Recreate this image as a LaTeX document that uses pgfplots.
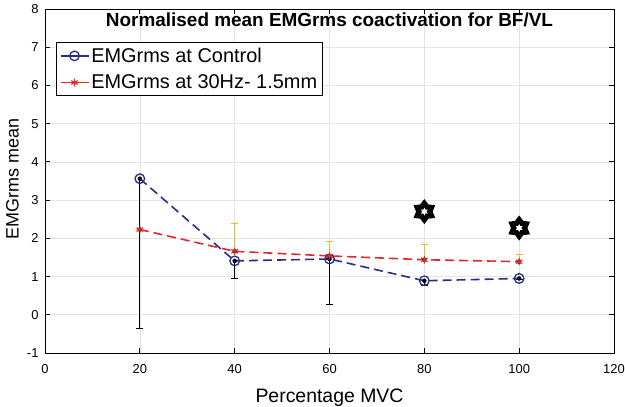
\documentclass[border=0pt]{standalone}
\usepackage{fontspec}
\setmainfont{Liberation Sans}
\usepackage{pgfplots}
\pgfplotsset{compat=1.18}
\usetikzlibrary{plotmarks}
\definecolor{ctrlblue}{RGB}{40,45,140}
\definecolor{hzred}{RGB}{228,38,45}
\definecolor{errorange}{RGB}{250,180,45}
\definecolor{gridgray}{RGB}{228,228,228}
\pgfdeclareplotmark{hexstar}{%
  \pgfsetcornersarced{\pgfpoint{0.22\pgfplotmarksize}{0.22\pgfplotmarksize}}%
  \pgfpathmoveto{\pgfpointpolar{90}{1.0\pgfplotmarksize}}%
  \pgfpathlineto{\pgfpointpolar{120}{0.66\pgfplotmarksize}}%
  \pgfpathlineto{\pgfpointpolar{150}{1.0\pgfplotmarksize}}%
  \pgfpathlineto{\pgfpointpolar{180}{0.66\pgfplotmarksize}}%
  \pgfpathlineto{\pgfpointpolar{210}{1.0\pgfplotmarksize}}%
  \pgfpathlineto{\pgfpointpolar{240}{0.66\pgfplotmarksize}}%
  \pgfpathlineto{\pgfpointpolar{270}{1.0\pgfplotmarksize}}%
  \pgfpathlineto{\pgfpointpolar{300}{0.66\pgfplotmarksize}}%
  \pgfpathlineto{\pgfpointpolar{330}{1.0\pgfplotmarksize}}%
  \pgfpathlineto{\pgfpointpolar{0}{0.66\pgfplotmarksize}}%
  \pgfpathlineto{\pgfpointpolar{30}{1.0\pgfplotmarksize}}%
  \pgfpathlineto{\pgfpointpolar{60}{0.66\pgfplotmarksize}}%
  \pgfpathclose
  \pgfsetfillcolor{black}%
  \pgfusepathqfill
  \pgfsetcornersarced{\pgfpointorigin}%
  \pgfpathmoveto{\pgfpointpolar{90}{0.32\pgfplotmarksize}}%
  \pgfpathlineto{\pgfpointpolar{120}{0.17\pgfplotmarksize}}%
  \pgfpathlineto{\pgfpointpolar{150}{0.32\pgfplotmarksize}}%
  \pgfpathlineto{\pgfpointpolar{180}{0.17\pgfplotmarksize}}%
  \pgfpathlineto{\pgfpointpolar{210}{0.32\pgfplotmarksize}}%
  \pgfpathlineto{\pgfpointpolar{240}{0.17\pgfplotmarksize}}%
  \pgfpathlineto{\pgfpointpolar{270}{0.32\pgfplotmarksize}}%
  \pgfpathlineto{\pgfpointpolar{300}{0.17\pgfplotmarksize}}%
  \pgfpathlineto{\pgfpointpolar{330}{0.32\pgfplotmarksize}}%
  \pgfpathlineto{\pgfpointpolar{0}{0.17\pgfplotmarksize}}%
  \pgfpathlineto{\pgfpointpolar{30}{0.32\pgfplotmarksize}}%
  \pgfpathlineto{\pgfpointpolar{60}{0.17\pgfplotmarksize}}%
  \pgfpathclose
  \pgfsetfillcolor{white}%
  \pgfusepathqfill
}
\begin{document}
\begin{tikzpicture}
\begin{axis}[
  scale only axis,
  width=569bp, height=344bp,
  xmin=0, xmax=120, ymin=-1, ymax=8,
  xtick={0,20,...,120}, ytick={-1,0,...,8},
  /pgf/number format/assume math mode=true,
  tick label style={font=\fontsize{13}{15}\selectfont},
  xticklabel style={yshift=-8bp},
  yticklabel style={xshift=-3bp},
  axis line style={black, line width=1bp},
  tick style={black, line width=0.8bp},
  major tick length=5bp,
  tick align=inside,
  grid=major,
  major grid style={gridgray, line width=0.6bp},
  title={Normalised mean EMGrms coactivation for BF/VL},
  title style={font=\fontsize{19}{22}\selectfont\bfseries, at={(axis description cs:0.5,1)}, anchor=base, yshift=-23bp},
  xlabel={Percentage MVC},
  xlabel style={font=\fontsize{19.5}{22}\selectfont, at={(axis description cs:0.5,-0.143)}, anchor=base},
  ylabel={EMGrms mean},
  ylabel style={font=\fontsize{18}{21}\selectfont, at={(axis description cs:-0.057,0.505)}, anchor=center},
  legend style={at={(axis description cs:0.019,0.904)}, anchor=north west, draw=black, line width=0.8bp,
    font=\fontsize{20}{23}\selectfont, inner sep=3.5bp, row sep=7bp, fill=white},
  legend cell align=left,
  legend image code/.code={\draw[mark repeat=2,mark phase=2,#1,solid] plot coordinates {(0bp,0bp) (14bp,0bp) (28bp,0bp)};},
]
% error bars: control (lower only)
\addplot[forget plot, only marks, mark=none,
  error bars/.cd, y dir=minus, y explicit,
  error bar style={black, line width=0.9bp, solid},
  error mark options={black, rotate=90, mark size=3.5bp, line width=0.9bp}]
  coordinates {(20,3.56) -= (0,3.93) (40,1.41) -= (0,0.46) (60,1.46) -= (0,1.18) (80,0.89) -= (0,0.11) (100,0.95) -= (0,0.03)};
% error bars: 30Hz (upper only)
\addplot[forget plot, only marks, mark=none,
  error bars/.cd, y dir=plus, y explicit,
  error bar style={errorange, line width=0.9bp, solid},
  error mark options={errorange, rotate=90, mark size=3.5bp, line width=0.9bp}]
  coordinates {(20,2.23) += (0,0.0) (40,1.66) += (0,0.73) (60,1.54) += (0,0.38) (80,1.44) += (0,0.39) (100,1.39) += (0,0.20)};
\addplot[ctrlblue, line width=1.6bp, dash pattern=on 9bp off 5bp, mark=o, mark size=4.8bp, mark options={solid, line width=1.3bp}]
  coordinates {(20,3.56) (40,1.41) (60,1.46) (80,0.89) (100,0.95)};
\addlegendentry{EMGrms at Control}
\addplot[hzred, line width=1.6bp, dash pattern=on 9bp off 5bp, mark=asterisk, mark size=3.8bp, mark options={solid, line width=1.1bp}]
  coordinates {(20,2.23) (40,1.66) (60,1.54) (80,1.44) (100,1.39)};
\addlegendentry{EMGrms at 30Hz- 1.5mm}
% significance markers
\addplot[forget plot, only marks, mark=hexstar, mark size=12.5bp]
  coordinates {(80,2.7) (100,2.27)};
\end{axis}
\pgfresetboundingbox
\path[use as bounding box] ([shift={(-45bp,-54bp)}]current axis.south west) rectangle ([shift={(580bp,353bp)}]current axis.south west);
\end{tikzpicture}
\end{document}
